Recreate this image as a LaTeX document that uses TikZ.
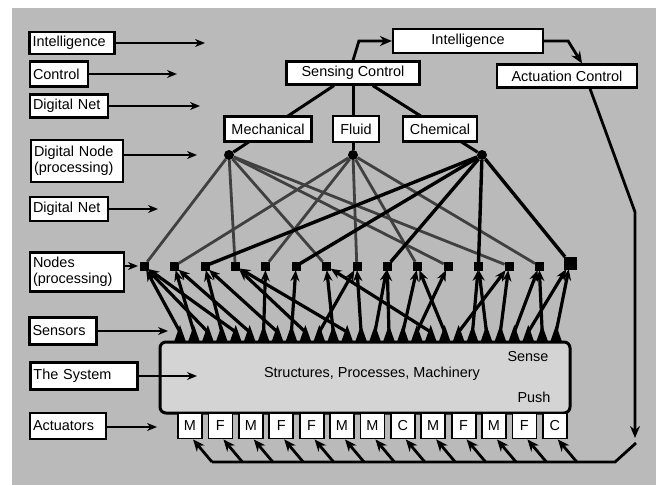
\documentclass[tikz,border=0pt]{standalone}
\usepackage{fontspec}
\setmainfont{Liberation Sans}
\usetikzlibrary{arrows.meta,calc}

\begin{document}
\begin{tikzpicture}[
    x=1bp, y=-1bp,
    font=\fontsize{14.5}{16}\selectfont,
    labelbox/.style={draw, fill=white, line width=2.2bp, inner sep=3bp, align=left},
    ctrlbox/.style={draw, fill=white, line width=2.2bp, inner sep=2bp},
    actbox/.style={draw, fill=white, line width=1.8bp, inner sep=0pt, minimum width=24bp, minimum height=25bp},
    sysbox/.style={draw, fill=black!17, line width=3bp, rounded corners=6bp},
    procnode/.style={draw, fill=black, inner sep=0pt, minimum size=8bp},
    hubnode/.style={circle, fill=black, inner sep=0pt, minimum size=10bp},
    arr/.style={line width=2.2bp, -{Stealth[length=10bp,width=8bp]}},
    busarr/.style={line width=2.8bp, -{Stealth[length=12bp,width=10bp]}},
    sensearr/.style={line width=3.2bp, -{Stealth[length=11bp,width=9bp]}},
    hubline/.style={line width=2.8bp, black!75},
    chemline/.style={line width=3.4bp},
]
    \useasboundingbox (0,0) rectangle (656,485);
    \fill[black!27] (12,8) rectangle (656,485);

    \node[labelbox, text width=79bp, minimum height=22bp] (lintel) at (72,43) {Intelligence};
    \node[labelbox, text width=52bp, minimum height=25bp] (lctrl) at (59,74) {Control};
    \node[labelbox, text width=72bp, minimum height=23bp] (lnet) at (69,106) {Digital Net};
    \node[labelbox, text width=86bp, minimum height=42bp] (lnode) at (77,161) {Digital Node\\(processing)};
    \node[labelbox, text width=72bp, minimum height=24bp] (lnet2) at (69,209) {Digital Net};
    \node[labelbox, text width=88bp, minimum height=39bp] (lnodes) at (77,272) {Nodes\\(processing)};
    \node[labelbox, text width=61bp, minimum height=27bp] (lsens) at (63,331) {Sensors};
    \node[labelbox, text width=101bp, minimum height=27bp] (lsys) at (84,376) {The System};
    \node[labelbox, text width=70bp, minimum height=26bp] (lact) at (68,426) {Actuators};

    \coordinate (tintel) at (205,43);
    \coordinate (tctrl) at (177,74);
    \coordinate (tnet) at (200,106);
    \coordinate (tnode) at (197,155);
    \coordinate (tnet2) at (158,209);
    \coordinate (tnodes) at (138,266);
    \coordinate (tsens) at (168,331);
    \coordinate (tsys) at (197,376);
    \coordinate (tact) at (157,427);

    \node[ctrlbox, minimum width=150bp, minimum height=24bp] (intel) at (468,41) {Intelligence};
    \node[ctrlbox, minimum width=133bp, minimum height=23bp] (sensctl) at (353,73) {Sensing Control};
    \node[ctrlbox, minimum width=140bp, minimum height=23bp] (actctl) at (567,76) {Actuation Control};

    \node[hubnode] (mhub) at (229,155) {};
    \node[hubnode] (fhub) at (353,155) {};
    \node[hubnode] (chub) at (482,155) {};

    \foreach \h in {mhub, fhub, chub} {
        \draw[line width=3bp] (sensctl) -- (\h);
    }

    \node[ctrlbox, minimum width=87bp, minimum height=25bp] (mech) at (268,129) {Mechanical};
    \node[ctrlbox, minimum width=46bp, minimum height=26bp] (fluid) at (356,129) {Fluid};
    \node[ctrlbox, minimum width=74bp, minimum height=25bp] (chem) at (440,129) {Chemical};

    \draw[busarr] (sensctl.north) -- ($(intel.west)+(-33,0)$) -- (intel.west);
    \draw[busarr] (intel.east) -- ($(intel.east)+(24,0)$) -- ($(actctl.north)+(15,0)$);

    \foreach \i in {0,...,13} {
        \node[procnode] (p\i) at ({144+30.4*\i},266) {};
    }
    \node[procnode, minimum size=12bp] (p14) at (570,263) {};

    \foreach \p in {p0, p3, p6, p10, p12} {
        \draw[hubline] (mhub) -- (\p);
    }
    \foreach \p in {p1, p4, p7, p9, p13} {
        \draw[hubline] (fhub) -- (\p);
    }
    \foreach \p in {p2, p5, p8, p11, p14} {
        \draw[chemline] (chub) -- (\p);
    }

    \node[sysbox, minimum width=410bp, minimum height=71bp] (sys) at (365,377.5) {};
    \node (systext) at (372,374) {Structures, Processes, Machinery};
    \node (sense) at (528,357) {Sense};
    \node (push) at (534,397) {Push};

    \foreach \i in {0,...,27} {
        \pgfmathsetmacro\sx{180+13.93*\i}
        \fill (\sx-6,342) -- (\sx,325) -- (\sx+6,342) -- cycle;
        \coordinate (s\i) at (\sx,332);
    }

    \foreach \s/\p in {0/0, 1/1, 2/0, 3/2, 4/0, 5/1, 6/4, 7/2, 8/5, 9/3, 10/7, 11/6, 12/3, 13/7,
                       14/8, 15/8, 16/9, 17/10, 18/6, 19/9, 20/12, 21/11, 22/11, 23/12, 24/13,
                       25/14, 26/13, 27/14} {
        \draw[sensearr] (s\s) -- (p\p);
    }

    \foreach \l/\t in {lintel/tintel, lctrl/tctrl, lnet/tnet, lnode/tnode, lnet2/tnet2,
                       lnodes/tnodes, lsens/tsens, lsys/tsys, lact/tact} {
        \draw[arr] (\l.east |- \t) -- (\t);
    }

    \foreach \t [count=\i from 0] in {M,F,M,F,F,M,M,C,M,F,M,F,C} {
        \node[actbox] (a\i) at ({190+30.4*\i},426) {\t};
        \coordinate (b\i) at ({212+30.4*\i},462);
    }

    \coordinate (bend) at (635,212);
    \coordinate (drop) at (635,438);
    \coordinate (busE) at (636,443);
    \coordinate (busR) at (615,462);

    \draw[busarr] ($(actctl.south)+(23,0)$) -- (bend) -- (drop);
    \draw[line width=2.8bp] (busE) -- (busR) -- (b0);

    \foreach \i in {0,...,12} {
        \draw[busarr] (b\i) -- ($(a\i.south)+(3,0)$);
    }

\end{tikzpicture}
\end{document}
